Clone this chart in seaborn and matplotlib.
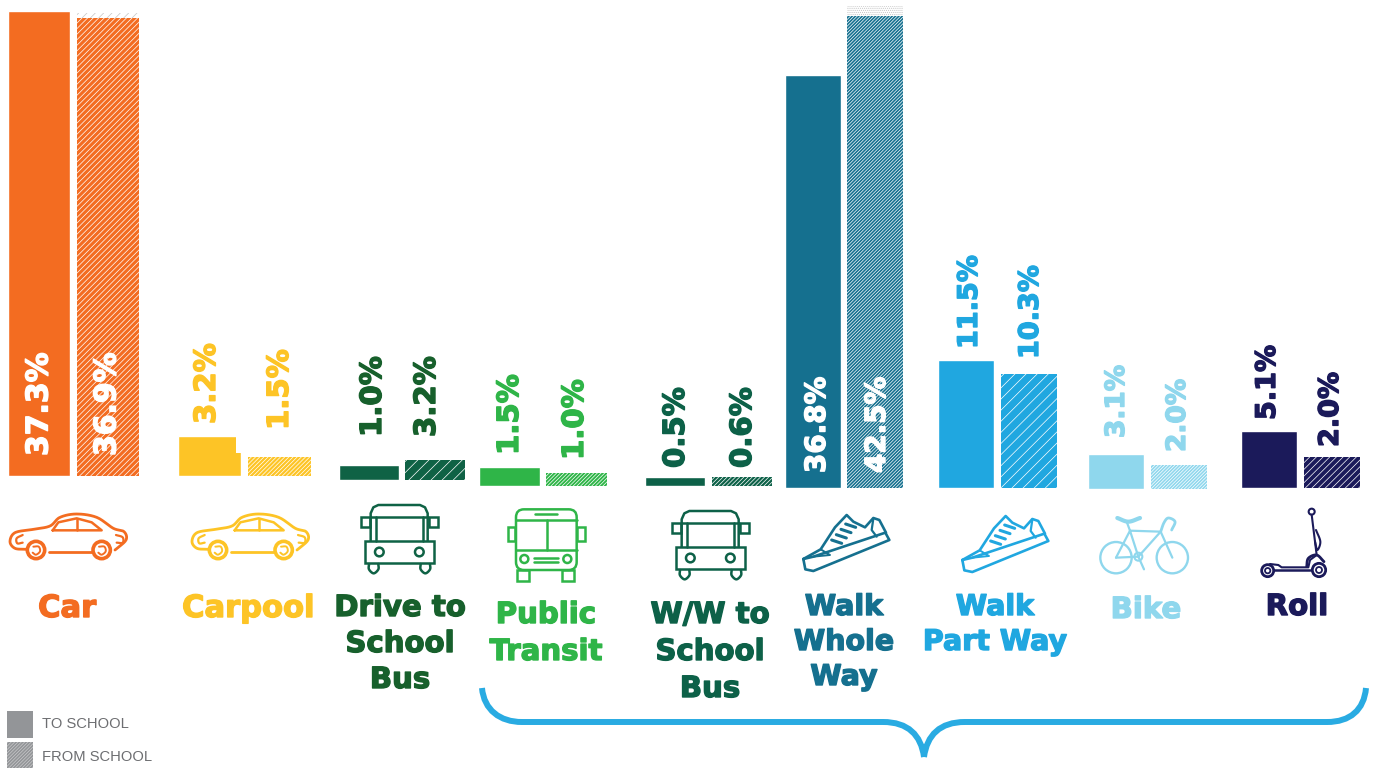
import numpy as np
import pandas as pd
import matplotlib
matplotlib.use("Agg")
import matplotlib.pyplot as plt
import matplotlib.patheffects as pe
from matplotlib.patches import Circle, Rectangle, FancyBboxPatch, PathPatch
from matplotlib.path import Path
import seaborn as sns

# ---- data ----
categories = ["Car", "Carpool", "Drive to\nSchool\nBus", "Public\nTransit", "W/W to\nSchool\nBus",
              "Walk\nWhole\nWay", "Walk\nPart Way", "Bike", "Roll"]
to_school = [37.3, 3.2, 1.0, 1.5, 0.5, 36.8, 11.5, 3.1, 5.1]
from_school = [36.9, 1.5, 3.2, 1.0, 0.6, 42.5, 10.3, 2.0, 2.0]
# heights the bars are actually drawn at (the source graphic is not strictly to scale)
drawn_to = [37.3, 3.2, 1.2, 1.5, 0.72, 36.8, 11.5, 3.1, 5.1]
drawn_from = [36.9, 1.5, 1.6, 1.0, 0.72, 42.05, 10.3, 2.15, 2.75]
colors = ["#f36c21", "#fdc426", "#0f6245", "#2fb548", "#0d6148", "#15708f", "#20a7e0", "#8fd7ed", "#1b1a5a"]
label_colors = ["#f36c21", "#fdc426", "#17602c", "#2fb548", "#0d6148", "#15708f", "#20a7e0", "#8fd7ed", "#1b1a5a"]
series_names = ["TO SCHOOL", "FROM SCHOOL"]
legend_grey = "#939598"

W, H = 1375, 768
sns.set_theme(style="white")
plt.rcParams["font.family"] = ["DejaVu Sans"]
plt.rcParams["hatch.linewidth"] = 0.5
fig = plt.figure(figsize=(W / 100, H / 100), dpi=100, facecolor="white")

# layout in pixels: left edge, right edge, bar width, baseline, px per unit, hatch
layout = [(8, 139, 62, 476, 12.47, "//////"), (178, 311, 63, 476, 12.5, "////////"),
          (339, 465, 60, 480, 12.5, "///"), (479, 607, 61, 486, 12.6, "/////////"),
          (645, 772, 60, 486, 12.5, "////////"), (785, 903, 56, 488, 11.22, "//////////"),
          (938, 1057, 56, 488, 11.1, "///"), (1088, 1207, 56, 489, 11.15, "//////////"),
          (1241, 1360, 56, 488, 11.15, "/////")]

for i, (x0, x1, bw, base, scale, hatch) in enumerate(layout):
    span = 490
    ax = fig.add_axes([x0 / W, 1 - base / H, (x1 - x0) / W, span / H])
    df = pd.DataFrame({"trip": series_names, "share": [drawn_to[i], drawn_from[i]]})
    pitch = (x1 - x0 - bw)
    w = bw / pitch
    sns.barplot(data=df, x="trip", y="share", color=colors[i], saturation=1, width=w, errorbar=None, ax=ax)
    ax.set_xlim(-w / 2, 1 + w / 2)
    ax.set_ylim(0, span / scale)
    ax.axis("off")
    ax.patch.set_alpha(0)
    p = ax.patches[1]
    p.set_hatch(hatch)
    p.set_edgecolor("white")
    p.set_linewidth(0)

# overlay in pixel coordinates for value labels, pictograms, captions
ov = fig.add_axes([0, 0, 1, 1], zorder=10)
ov.set_xlim(0, W)
ov.set_ylim(H, 0)
ov.axis("off")
ov.patch.set_alpha(0)

# small artefacts of the source graphic: hatched fringes and the carpool notch
ov.add_patch(Rectangle((77, 13), 62, 5, fc="white", ec="#c4c4c4", lw=0, hatch="////"))
ov.add_patch(Rectangle((847, 6), 56, 10, fc="white", ec="#c4c4c4", lw=0, hatch="........"))
ov.add_patch(Rectangle((236.5, 435), 5.5, 18, fc="white", ec="none"))

# value label anchors: x centre, lower end in pixels, size
lab_to = [(39, 456, 21.5), (207, 424, 21), (373, 437, 21), (510, 455, 21), (676, 468, 21),
          (817, 473, 20), (970, 349, 19.5), (1117, 438, 19), (1268, 420, 19.5)]
lab_from = [(107, 456, 21.5), (280, 430, 21), (427, 437, 21), (575, 460, 21), (743, 468, 21),
            (877, 473, 20), (1031, 359, 19.5), (1178, 452, 19), (1331, 447, 19.5)]
inside = {0, 5}
for i in range(9):
    for val, (x, y, fs) in ((to_school[i], lab_to[i]), (from_school[i], lab_from[i])):
        c = "white" if i in inside else label_colors[i]
        ov.text(x, y, f"{val:.1f}%", rotation=90, ha="center", va="bottom", fontsize=fs, fontweight="bold",
                color=c, path_effects=[pe.withStroke(linewidth=1.0, foreground=c)])

# category captions (line by line): x centre and baselines
caption_pos = [(67, [617]), (248, [617]), (400, [616, 652, 688]), (546, [623, 660]), (710, [623, 660, 697]),
               (844, [615, 650, 685]), (995, [615, 650]), (1146, [618]), (1297, [615])]
caption_size = [22, 22, 21, 21, 21, 20.5, 20.5, 21, 21]
for i, (x, ys) in enumerate(caption_pos):
    for line_, y in zip(categories[i].split("\n"), ys):
        ov.text(x, y, line_, ha="center", va="baseline", fontsize=caption_size[i], fontweight="bold",
                color=label_colors[i],
                path_effects=[pe.withStroke(linewidth=1.0, foreground=label_colors[i])])


# ---- pictograms ----
def spline(pts, closed=False, n=14):
    pts = np.asarray(pts, float)
    if closed:
        P = np.vstack([pts[-1], pts, pts[0], pts[1]])
    else:
        P = np.vstack([2 * pts[0] - pts[1], pts, 2 * pts[-1] - pts[-2]])
    out = []
    t = np.linspace(0, 1, n)[:, None]
    for k in range(1, len(P) - 2):
        a, b, c, d = P[k - 1], P[k], P[k + 1], P[k + 2]
        out.append(0.5 * (2 * b + (c - a) * t + (2 * a - 5 * b + 4 * c - d) * t ** 2 + (3 * b - a - 3 * c + d) * t ** 3))
    return np.vstack(out)


def mapper(ox, oy):
    return lambda pts: np.asarray(pts, float) / 3 + [ox, oy]


def line(m, pts, c, lw=1.6, smooth=False, closed=False, z=4):
    q = spline(pts, closed) if smooth else np.asarray(pts, float)
    q = m(q)
    ov.plot(q[:, 0], q[:, 1], color=c, lw=lw, solid_capstyle="round", solid_joinstyle="round", zorder=z)


def circ(m, cx, cy, r, c, lw=1.6, fc="white"):
    x, y = m([[cx, cy]])[0]
    ov.add_patch(Circle((x, y), r / 3, fc=fc, ec=c, lw=lw, zorder=3))


def rect(m, x0, y0, x1, y1, c, lw=1.6, round_=0):
    a, b = m([[x0, y0], [x1, y1]])
    if round_:
        ov.add_patch(FancyBboxPatch((a[0], a[1]), b[0] - a[0], b[1] - a[1],
                                    boxstyle=f"round,pad=0,rounding_size={round_ / 3}", fc="none", ec=c, lw=lw))
    else:
        ov.add_patch(Rectangle((a[0], a[1]), b[0] - a[0], b[1] - a[1], fc="none", ec=c, lw=lw))


def car(ox, oy, c):
    m = mapper(ox, oy)
    line(m, [(78, 178), (45, 175), (30, 155), (45, 128), (100, 118), (150, 108), (180, 82), (230, 72), (290, 82),
             (340, 115), (372, 125), (378, 150), (345, 180)], c, lw=2, smooth=True, z=2)
    line(m, [(148, 185), (275, 185)], c, lw=2)
    line(m, [(158, 121), (175, 97), (230, 85), (275, 97), (305, 121), (158, 121)], c, lw=1.8)
    line(m, [(230, 88), (230, 120)], c, lw=1.8)
    line(m, [(68, 135), (50, 145), (52, 160), (68, 158)], c, smooth=True)
    line(m, [(348, 135), (368, 142), (368, 158), (350, 158)], c, smooth=True)
    for cx in (108, 305):
        circ(m, cx, 180, 26, c, lw=2.6)
        line(m, [(cx - 8, 170), (cx + 8, 170), (cx + 12, 184), (cx, 194), (cx - 10, 188)], c, lw=1.4, smooth=True)


def school_bus(ox, oy, c):
    m = mapper(ox, oy)
    line(m, [(1112, 152), (1112, 70), (1120, 52), (1135, 45), (1260, 45), (1275, 52), (1283, 70), (1283, 152)], c, lw=1.8)
    line(m, [(1112, 80), (1283, 80)], c, lw=1.8)
    line(m, [(1127, 80), (1127, 152)], c, lw=1.8)
    line(m, [(1268, 80), (1268, 152)], c, lw=1.8)
    rect(m, 1083, 82, 1110, 110, c, lw=1.8)
    rect(m, 1286, 82, 1313, 110, c, lw=1.8)
    rect(m, 1094, 152, 1301, 220, c, lw=1.8)
    circ(m, 1138, 186, 13, c, lw=1.8)
    circ(m, 1258, 186, 13, c, lw=1.8)
    for a in (1107, 1262):
        line(m, [(a, 222), (a, 238), (a + 14, 250), (a + 28, 238), (a + 28, 222)], c, lw=1.8, smooth=True)


def transit(ox, oy, c):
    m = mapper(ox, oy)
    rect(m, 168, 58, 350, 240, c, lw=1.8, round_=24)
    line(m, [(168, 90), (350, 90)], c, lw=1.8)
    line(m, [(225, 73), (290, 73)], c, lw=1.8)
    line(m, [(260, 90), (260, 180)], c, lw=1.8)
    line(m, [(168, 180), (350, 180)], c, lw=1.8)
    rect(m, 143, 112, 166, 152, c, lw=1.8)
    rect(m, 352, 112, 374, 152, c, lw=1.8)
    circ(m, 193, 207, 12, c, lw=1.8)
    circ(m, 322, 207, 12, c, lw=1.8)
    line(m, [(222, 203), (295, 203)], c, lw=1.8)
    line(m, [(222, 217), (295, 217)], c, lw=1.8)
    rect(m, 172, 240, 207, 272, c, lw=1.8)
    rect(m, 307, 240, 342, 272, c, lw=1.8)


def shoe(ox, oy, c):
    m = mapper(ox, oy)
    line(m, [(1030, 207), (1036, 238), (1060, 243), (1288, 150), (1276, 128), (1060, 200), (1030, 207)], c, lw=1.9)
    line(m, [(1030, 207), (1082, 178), (1125, 112), (1160, 75), (1180, 95), (1215, 112), (1240, 84), (1258, 90), (1278, 128)],
         c, lw=1.9)
    line(m, [(1240, 86), (1235, 120), (1250, 140)], c, lw=1.6)
    line(m, [(1082, 178), (1110, 195), (1060, 200)], c, lw=1.4)
    for k in range(4):
        line(m, [(1115 + k * 14, 150 - k * 16), (1145 + k * 14, 160 - k * 16)], c, lw=2.2)


def bike(ox, oy, c):
    m = mapper(ox, oy)
    for cx in (588, 757):
        circ(m, cx, 203, 47, c, lw=1.7, fc="none")
    line(m, [(588, 203), (630, 122), (722, 125), (655, 200), (630, 122)], c)
    line(m, [(588, 203), (655, 200)], c)
    line(m, [(722, 125), (757, 203)], c)
    line(m, [(722, 125), (732, 98), (745, 84), (765, 95), (755, 120)], c, smooth=True, lw=2)
    line(m, [(630, 122), (620, 95)], c)
    line(m, [(592, 84), (625, 95), (660, 84)], c, lw=3, smooth=True)
    circ(m, 655, 200, 12, c, lw=1.5, fc="none")
    line(m, [(655, 200), (672, 238)], c)


def scooter(ox, oy, c):
    m = mapper(ox, oy)
    circ(m, 1175, 65, 9, c, lw=1.5)
    line(m, [(1175, 74), (1190, 195)], c, lw=1.5)
    line(m, [(1188, 120), (1201, 155), (1192, 180), (1185, 155)], c, lw=1.5, smooth=True)
    line(m, [(1050, 222), (1075, 225), (1085, 232), (1165, 232), (1170, 210), (1190, 195)], c, lw=1.5, z=2)
    line(m, [(1060, 240), (1170, 240)], c, lw=1.8, z=2)
    line(m, [(1160, 230), (1165, 205), (1190, 195), (1212, 215)], c, lw=2, smooth=True, z=2)
    circ(m, 1043, 242, 18, c, lw=2)
    circ(m, 1043, 242, 8, c, lw=1.3)
    circ(m, 1197, 240, 20, c, lw=2)
    circ(m, 1197, 240, 9, c, lw=1.3)


car(0, 490, label_colors[0])
car(182, 490, label_colors[1])
school_bus(0, 490, colors[2])
transit(460, 490, colors[3])
school_bus(311, 496, colors[4])
shoe(460, 490, colors[5])
shoe(619, 491, colors[6])
bike(920, 490, colors[7])
scooter(920, 490, colors[8])

# bracket under the active modes
brace_v = [(482, 688), (484, 710), (500, 722), (522, 722), (883, 722), (908, 722), (921, 735), (924, 757),
           (924, 757), (927, 735), (940, 722), (965, 722), (1327, 722), (1350, 722), (1364, 710), (1366, 688)]
brace_c = [Path.MOVETO, Path.CURVE4, Path.CURVE4, Path.CURVE4, Path.LINETO, Path.CURVE4, Path.CURVE4, Path.CURVE4,
           Path.MOVETO, Path.CURVE4, Path.CURVE4, Path.CURVE4, Path.LINETO, Path.CURVE4, Path.CURVE4, Path.CURVE4]
ov.add_patch(PathPatch(Path(brace_v, brace_c), fc="none", ec="#29abe2", lw=4.3, capstyle="butt"))

# legend swatches
ov.add_patch(Rectangle((7, 711), 26, 27, fc=legend_grey, ec="none"))
ov.add_patch(Rectangle((7, 742), 26, 26, fc=legend_grey, ec="#c9cacc", lw=0, hatch="//////////"))
for name, y in zip(series_names, (728, 761)):
    ov.text(42, y, name, fontsize=10.6, color="#6d6e71", family="Liberation Sans", ha="left", va="baseline")

fig.savefig("out.png", dpi=100, facecolor="white")
